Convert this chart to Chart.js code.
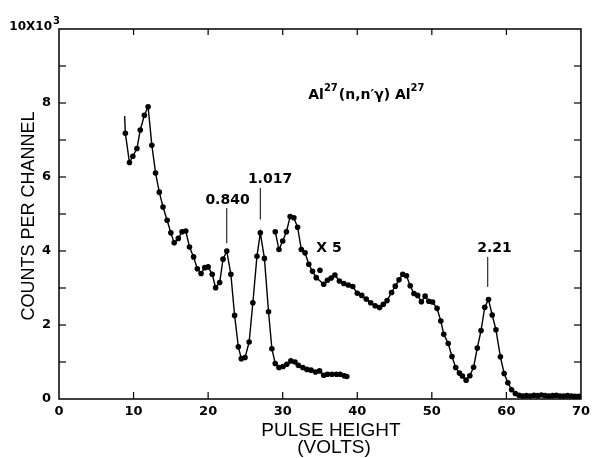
<!DOCTYPE html>
<html><head><meta charset="utf-8">
<script src="https://cdn.jsdelivr.net/npm/chart.js@4/dist/chart.umd.min.js"></script>
<style>html,body{margin:0;padding:0;background:#fff}canvas{display:block}</style>
</head><body>
<canvas id="c" width="595" height="458"></canvas>
<script>
// ---- data ----
const mainX = [8.8, 8.9, 9.45, 9.9, 10.45, 10.9, 11.45, 11.95, 12.45, 12.95, 13.45, 13.95, 14.5, 15.0, 15.45, 16.0, 16.5, 17.0, 17.5, 18.05, 18.55, 19.05, 19.55, 20.0, 20.55, 21.0, 21.55, 22.0, 22.5, 23.05, 23.55, 24.05, 24.45, 24.95, 25.5, 26.0, 26.55, 27.0, 27.55, 28.1, 28.55, 29.0, 29.5, 30.05, 30.55, 31.1, 31.65, 32.1, 32.7, 33.25, 33.8, 34.4, 34.95, 35.5, 36.0, 36.6, 37.2, 37.7, 38.25, 38.6];
const mainY = [7.65, 7.18, 6.39, 6.56, 6.77, 7.27, 7.67, 7.90, 6.86, 6.11, 5.59, 5.19, 4.83, 4.49, 4.22, 4.34, 4.52, 4.54, 4.11, 3.84, 3.52, 3.39, 3.55, 3.57, 3.37, 3.01, 3.15, 3.78, 4.00, 3.37, 2.26, 1.41, 1.09, 1.12, 1.54, 2.60, 3.86, 4.49, 3.80, 2.36, 1.36, 0.96, 0.85, 0.88, 0.94, 1.03, 1.00, 0.91, 0.85, 0.80, 0.78, 0.73, 0.76, 0.64, 0.67, 0.67, 0.67, 0.67, 0.63, 0.61];

const x5X = [29.0, 29.5, 30.0, 30.5, 31.0, 31.5, 32.0, 32.5, 33.0, 33.5, 34.0, 34.5, 35.5, 36.0, 36.5, 37.0, 37.6, 38.2, 38.8, 39.4, 40.0, 40.6, 41.2, 41.8, 42.4, 43.0, 43.5, 44.0, 44.6, 45.1, 45.6, 46.1, 46.6, 47.1, 47.6, 48.1, 48.6, 49.1, 49.6, 50.1, 50.7, 51.2, 51.6, 52.2, 52.7, 53.2, 53.7, 54.1, 54.6, 55.1, 55.6, 56.1, 56.6, 57.1, 57.6, 58.1, 58.6, 59.2, 59.7, 60.2, 60.7, 61.2, 61.7, 62.2, 62.7, 63.2, 63.7, 64.2, 64.7, 65.2, 65.7, 66.2, 66.7, 67.2, 67.7, 68.2, 68.7, 69.2, 69.7];
const x5Y = [4.52, 4.04, 4.27, 4.52, 4.93, 4.90, 4.64, 4.04, 3.95, 3.64, 3.45, 3.28, 3.10, 3.21, 3.27, 3.35, 3.19, 3.12, 3.08, 3.04, 2.86, 2.80, 2.70, 2.60, 2.52, 2.47, 2.56, 2.66, 2.88, 3.05, 3.22, 3.37, 3.33, 3.06, 2.85, 2.80, 2.63, 2.78, 2.64, 2.62, 2.45, 2.11, 1.75, 1.50, 1.15, 0.85, 0.70, 0.62, 0.51, 0.63, 0.86, 1.38, 1.85, 2.48, 2.69, 2.27, 1.87, 1.14, 0.69, 0.44, 0.25, 0.15, 0.10, 0.08, 0.09, 0.08, 0.10, 0.09, 0.11, 0.09, 0.08, 0.09, 0.10, 0.08, 0.08, 0.09, 0.08, 0.07, 0.07];

const strayX = [35.0];
const strayY = [3.48];

const xTickLabels = ['0', '10', '20', '30', '40', '50', '60', '70'];
const yTickLabels = ['0', '', '2', '', '4', '', '6', '', '8', '', ''];
const yTopLabel = '10X10';
const yTopExp = '3';

const peakLabels = ['0.840', '1.017', '2.21'];
const peakX = [22.5, 27.0, 57.5];

// ---- drawing ----
const toPts = (xs, ys) => xs.map((v, i) => ({x: v, y: ys[i]}));

const decor = {
  id: 'decor',
  afterDraw(chart) {
    const ctx = chart.ctx, a = chart.chartArea, xs = chart.scales.x, ys = chart.scales.y;
    const ln = (x1, y1, x2, y2) => { ctx.beginPath(); ctx.moveTo(x1, y1); ctx.lineTo(x2, y2); ctx.stroke(); };
    ctx.save();
    ctx.strokeStyle = '#000'; ctx.fillStyle = '#000';
    ctx.lineWidth = 1.5;
    ctx.strokeRect(a.left, a.top, a.right - a.left, a.bottom - a.top);
    ctx.lineWidth = 1.2;
    for (let v = 10; v < 70; v += 10) {
      const px = xs.getPixelForValue(v);
      ln(px, a.bottom, px, a.bottom - 7);
      ln(px, a.top, px, a.top + 6);
    }
    for (let v = 1; v < 10; v++) {
      const py = ys.getPixelForValue(v);
      ln(a.left, py, a.left + 7, py);
      ln(a.right, py, a.right - 7, py);
    }
    // top y label with exponent
    const ty = ys.getPixelForValue(10);
    ctx.font = 'bold 12px "DejaVu Sans"'; ctx.textAlign = 'right'; ctx.textBaseline = 'alphabetic';
    ctx.fillText(yTopLabel, a.left - 7, ty + 1);
    ctx.font = 'bold 10px "DejaVu Sans"'; ctx.textAlign = 'left';
    ctx.fillText(yTopExp, a.left - 6, ty - 5);

    // peak markers
    ctx.lineWidth = 1;
    ctx.font = 'bold 14px "DejaVu Sans"'; ctx.textAlign = 'center'; ctx.textBaseline = 'middle';
    const marks = [
      {t: peakLabels[0], lx: 22.6, ly: 5.37, y1: 5.16, y2: 4.21},
      {t: peakLabels[1], lx: 28.3, ly: 5.94, y1: 5.70, y2: 4.85},
      {t: peakLabels[2], lx: 58.4, ly: 4.08, y1: 3.84, y2: 3.03}
    ];
    marks.forEach((m, i) => {
      const px = xs.getPixelForValue(peakX[i]);
      ln(px, ys.getPixelForValue(m.y1), px, ys.getPixelForValue(m.y2));
      ctx.fillText(m.t, xs.getPixelForValue(m.lx), ys.getPixelForValue(m.ly));
    });
    ctx.fillText('X 5', xs.getPixelForValue(36.2), ys.getPixelForValue(4.08));

    // reaction title
    let tx = xs.getPixelForValue(33.43);
    const tb = ys.getPixelForValue(8.10);
    ctx.textAlign = 'left'; ctx.textBaseline = 'alphabetic';
    const parts = [['Al', 14, 0], ['27', 10, -8], ['(n,n\u2032\u03B3) Al', 14, 0], ['27', 10, -8]];
    parts.forEach(p => {
      ctx.font = 'bold ' + p[1] + 'px "DejaVu Sans"';
      ctx.fillText(p[0], tx, tb + p[2]);
      tx += ctx.measureText(p[0]).width + (p[1] === 10 ? 1 : 0);
    });

    // axis titles
    ctx.textAlign = 'center'; ctx.textBaseline = 'middle';
    ctx.font = '19px "Liberation Sans"';
    ctx.fillText('PULSE HEIGHT', 331, 431);
    ctx.fillText('(VOLTS)', 334, 448);
    ctx.font = '18px "Liberation Sans"';
    ctx.save();
    ctx.translate(29, (a.top + a.bottom) / 2 + 2);
    ctx.rotate(-Math.PI / 2);
    ctx.fillText('COUNTS PER CHANNEL', 0, 0);
    ctx.restore();
    ctx.restore();
  }
};

new Chart(document.getElementById('c'), {
  type: 'scatter',
  data: {
    datasets: [
      {data: toPts(mainX, mainY), showLine: true, borderColor: '#000', borderWidth: 1.4,
       pointBackgroundColor: '#000', pointBorderWidth: 0,
       pointRadius: c => c.dataIndex === 0 ? 0 : 2.8, tension: 0},
      {data: toPts(x5X, x5Y), showLine: true, borderColor: '#000', borderWidth: 1.4,
       pointBackgroundColor: '#000', pointBorderWidth: 0, pointRadius: 2.8, tension: 0},
      {data: toPts(strayX, strayY), showLine: false,
       pointBackgroundColor: '#000', pointBorderWidth: 0, pointRadius: 2.8}
    ]
  },
  options: {
    responsive: false, animation: false, devicePixelRatio: 1,
    layout: {padding: {left: 0, top: 29, right: 14, bottom: 0}},
    plugins: {legend: {display: false}, tooltip: {enabled: false}},
    scales: {
      x: {type: 'linear', min: 0, max: 70,
          ticks: {stepSize: 10, color: '#000', font: {family: 'DejaVu Sans', size: 13, weight: 'bold'}, padding: 5,
                  callback: v => xTickLabels[v / 10]},
          grid: {display: false, drawTicks: false}, border: {display: false},
          afterFit: s => { s.height = 59; }},
      y: {min: 0, max: 10,
          ticks: {stepSize: 1, color: '#000', font: {family: 'DejaVu Sans', size: 13, weight: 'bold'}, padding: 8,
                  callback: v => yTickLabels[v]},
          grid: {display: false, drawTicks: false}, border: {display: false},
          afterFit: s => { s.width = 59; }}
    }
  },
  plugins: [decor]
});
</script>
</body></html>
